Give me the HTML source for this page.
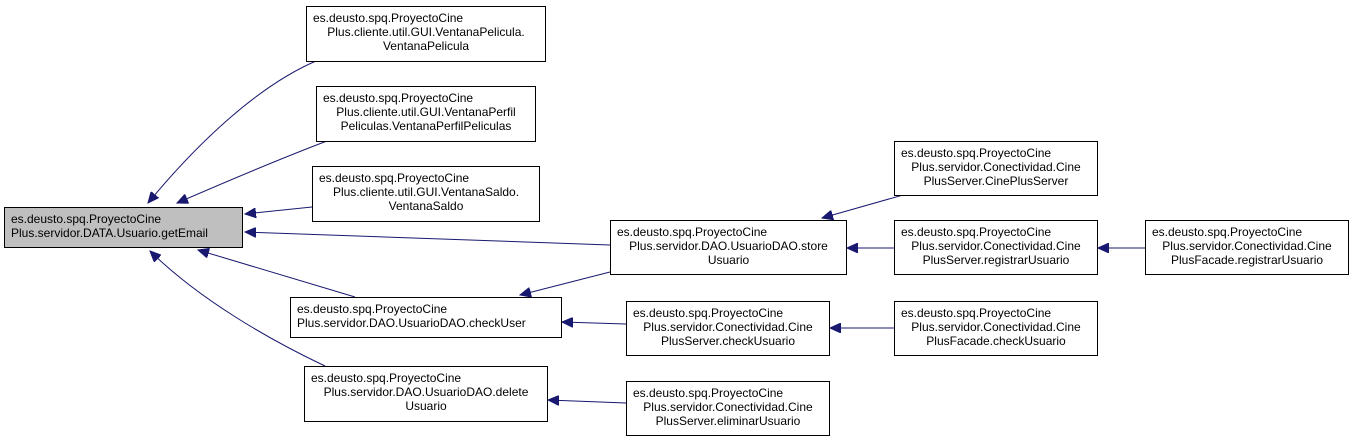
<!DOCTYPE html>
<html><head><meta charset="utf-8"><style>
body{margin:0;background:#fff;width:1353px;height:441px;overflow:hidden;position:relative}
.n{position:absolute;box-sizing:border-box;border:1px solid #000;background:#fff;font-family:"Liberation Sans",Arial,sans-serif;font-size:12px;line-height:14px;color:#000;padding:4px 6px 0 6px;text-align:center;white-space:nowrap}
.l{text-align:left}
svg{position:absolute;left:0;top:0}
</style></head><body>
<svg width="1353" height="441">
<defs><marker id="a" markerUnits="userSpaceOnUse" markerWidth="12" markerHeight="10" refX="11" refY="5" orient="auto"><path d="M0,0 L11,5 L0,10 z" fill="#191970" stroke="#191970"/></marker></defs>
<g stroke="#191970" stroke-width="1" fill="none" marker-end="url(#a)">
<path d="M316,61 C260,85 200,140 148,203"/>
<path d="M327,141 C290,155 230,180 177,203"/>
<path d="M312,207 L245,214"/>
<path d="M610,245 L245,232"/>
<path d="M610,272 L520,295"/>
<path d="M355,297 L198,250"/>
<path d="M325,366 C270,340 200,300 150,251"/>
<path d="M626,324 L562,322"/>
<path d="M626,403 L548,400"/>
<path d="M903,195 L822,218"/>
<path d="M894,248 L847,248"/>
<path d="M1145,248 L1098,248"/>
<path d="M894,328 L830,328"/>
</g></svg>
<div class="n l" style="left:4px;top:207px;width:239px;height:41px;background:#bfbfbf">es.deusto.spq.ProyectoCine<br>Plus.servidor.DATA.Usuario.getEmail</div>
<div class="n" style="left:306px;top:6px;width:240px;height:56px"><div class="l">es.deusto.spq.ProyectoCine</div>Plus.cliente.util.GUI.VentanaPelicula.<br>VentanaPelicula</div>
<div class="n" style="left:316px;top:86px;width:220px;height:56px"><div class="l">es.deusto.spq.ProyectoCine</div>Plus.cliente.util.GUI.VentanaPerfil<br>Peliculas.VentanaPerfilPeliculas</div>
<div class="n" style="left:312px;top:166px;width:228px;height:56px"><div class="l">es.deusto.spq.ProyectoCine</div>Plus.cliente.util.GUI.VentanaSaldo.<br>VentanaSaldo</div>
<div class="n l" style="left:290px;top:297px;width:272px;height:41px">es.deusto.spq.ProyectoCine<br>Plus.servidor.DAO.UsuarioDAO.checkUser</div>
<div class="n" style="left:304px;top:366px;width:244px;height:56px"><div class="l">es.deusto.spq.ProyectoCine</div>Plus.servidor.DAO.UsuarioDAO.delete<br>Usuario</div>
<div class="n" style="left:610px;top:220px;width:237px;height:55px"><div class="l">es.deusto.spq.ProyectoCine</div>Plus.servidor.DAO.UsuarioDAO.store<br>Usuario</div>
<div class="n" style="left:894px;top:141px;width:204px;height:55px"><div class="l">es.deusto.spq.ProyectoCine</div>Plus.servidor.Conectividad.Cine<br>PlusServer.CinePlusServer</div>
<div class="n" style="left:894px;top:220px;width:204px;height:55px"><div class="l">es.deusto.spq.ProyectoCine</div>Plus.servidor.Conectividad.Cine<br>PlusServer.registrarUsuario</div>
<div class="n" style="left:1145px;top:220px;width:204px;height:55px"><div class="l">es.deusto.spq.ProyectoCine</div>Plus.servidor.Conectividad.Cine<br>PlusFacade.registrarUsuario</div>
<div class="n" style="left:626px;top:301px;width:204px;height:55px"><div class="l">es.deusto.spq.ProyectoCine</div>Plus.servidor.Conectividad.Cine<br>PlusServer.checkUsuario</div>
<div class="n" style="left:894px;top:301px;width:204px;height:55px"><div class="l">es.deusto.spq.ProyectoCine</div>Plus.servidor.Conectividad.Cine<br>PlusFacade.checkUsuario</div>
<div class="n" style="left:626px;top:381px;width:204px;height:55px"><div class="l">es.deusto.spq.ProyectoCine</div>Plus.servidor.Conectividad.Cine<br>PlusServer.eliminarUsuario</div>
</body></html>
